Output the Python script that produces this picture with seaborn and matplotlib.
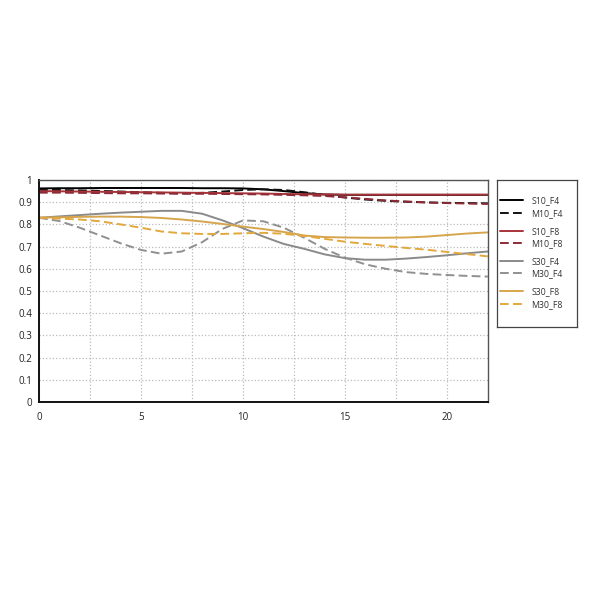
import numpy as np
import pandas as pd
import matplotlib
matplotlib.use('Agg')
import matplotlib.pyplot as plt
import seaborn as sns

# values, x = 0..22
x_vals = list(range(23))
s10_f4 = [0.962, 0.963, 0.963, 0.964, 0.964, 0.964, 0.964, 0.964, 0.963, 0.963, 0.962, 0.958,
          0.950, 0.941, 0.935, 0.933, 0.933, 0.933, 0.933, 0.933, 0.933, 0.933, 0.933]
m10_f4 = [0.955, 0.955, 0.953, 0.951, 0.948, 0.945, 0.942, 0.940, 0.942, 0.948, 0.955, 0.958,
          0.955, 0.945, 0.932, 0.921, 0.912, 0.906, 0.902, 0.899, 0.897, 0.896, 0.895]
s10_f8 = [0.950, 0.949, 0.948, 0.947, 0.946, 0.945, 0.944, 0.943, 0.942, 0.941, 0.940, 0.939,
          0.937, 0.936, 0.935, 0.934, 0.934, 0.934, 0.934, 0.934, 0.934, 0.934, 0.934]
m10_f8 = [0.943, 0.943, 0.942, 0.941, 0.940, 0.940, 0.939, 0.938, 0.938, 0.937, 0.936, 0.935,
          0.933, 0.931, 0.928, 0.922, 0.915, 0.908, 0.903, 0.899, 0.896, 0.894, 0.892]
s30_f4 = [0.830, 0.836, 0.842, 0.848, 0.853, 0.857, 0.861, 0.861, 0.848, 0.818, 0.783, 0.745,
          0.712, 0.690, 0.665, 0.648, 0.641, 0.641, 0.646, 0.653, 0.661, 0.670, 0.678]
m30_f4 = [0.830, 0.815, 0.785, 0.750, 0.715, 0.685, 0.668, 0.678, 0.720, 0.780, 0.818, 0.814,
          0.785, 0.740, 0.690, 0.650, 0.620, 0.600, 0.585, 0.577, 0.572, 0.568, 0.565]
s30_f8 = [0.830, 0.832, 0.834, 0.835, 0.835, 0.833, 0.829, 0.822, 0.813, 0.802, 0.790, 0.779,
          0.766, 0.750, 0.743, 0.741, 0.740, 0.740, 0.741, 0.745, 0.752, 0.759, 0.764]
m30_f8 = [0.830, 0.826, 0.822, 0.814, 0.800, 0.785, 0.768, 0.760, 0.757, 0.757, 0.760, 0.762,
          0.758, 0.748, 0.735, 0.722, 0.712, 0.703, 0.694, 0.686, 0.676, 0.666, 0.656]

names = ['S10_F4', 'M10_F4', 'S10_F8', 'M10_F8', 'S30_F4', 'M30_F4', 'S30_F8', 'M30_F8']
series = [s10_f4, m10_f4, s10_f8, m10_f8, s30_f4, m30_f4, s30_f8, m30_f8]
colors = ['#000000', '#111111', '#a8343a', '#8e2a36', '#8a8a8a', '#909090', '#d6a54e', '#e3a83c']
dash_styles = ['', (4.5, 2.2), '', (4.5, 2.2), '', (4.5, 2.2), '', (4.5, 2.2)]

df = pd.concat([pd.DataFrame({'x': x_vals, 'y': v, 'series': n}) for n, v in zip(names, series)])

sns.set_style('white')
plt.rcParams['font.family'] = ['Open Sans', 'DejaVu Sans']

fig = plt.figure(figsize=(6, 6), dpi=100)
ax = fig.add_axes([0.065, 0.33, 0.748, 0.37])

sns.lineplot(data=df, x='x', y='y', hue='series', style='series', hue_order=names, style_order=names,
             palette=dict(zip(names, colors)), dashes=dict(zip(names, dash_styles)),
             linewidth=1.4, legend=False, ax=ax)

ax.set_xlim(0, 22)
ax.set_ylim(0, 1)
ax.set_xticks([0, 5, 10, 15, 20])
ax.set_xticks(np.arange(0, 22.1, 2.5), minor=True)
ax.set_yticks(np.arange(0, 1.01, 0.1))
ax.set_yticklabels(['0', '0.1', '0.2', '0.3', '0.4', '0.5', '0.6', '0.7', '0.8', '0.9', '1'])
ax.grid(True, which='both', axis='x', color='#bbbbbb', linestyle=':', linewidth=0.9)
ax.grid(True, which='major', axis='y', color='#bbbbbb', linestyle=':', linewidth=0.9)
ax.tick_params(axis='both', which='both', length=0, labelsize=7, colors='#222222')
ax.tick_params(axis='x', pad=7)
ax.tick_params(axis='y', pad=5)
ax.set_xlabel('')
ax.set_ylabel('')
for s in ['left', 'bottom']:
    ax.spines[s].set_color('#111111')
    ax.spines[s].set_linewidth(1.4)
for s in ['top', 'right']:
    ax.spines[s].set_color('#555555')
    ax.spines[s].set_linewidth(1.0)

# legend box with four groups of two
lax = fig.add_axes([0.828, 0.455, 0.134, 0.245])
lax.set_xticks([])
lax.set_yticks([])
for s in lax.spines.values():
    s.set_color('#444444')
    s.set_linewidth(0.9)

lines = ax.get_lines()
group_y = [0.816, 0.609, 0.405, 0.197]
for g, gy in enumerate(group_y):
    hs = lines[2 * g:2 * g + 2]
    leg = lax.legend(hs, names[2 * g:2 * g + 2], loc='center left', bbox_to_anchor=(0.0, gy),
                     frameon=False, fontsize=6.3, handlelength=2.6, handletextpad=1.0,
                     labelspacing=0.4, borderaxespad=0.35, borderpad=0)
    for t in leg.get_texts():
        t.set_color('#333333')
    lax.add_artist(leg)
lax.legend_ = None  # last group is already added as an artist

fig.savefig('out.png', dpi=100, facecolor='white')
